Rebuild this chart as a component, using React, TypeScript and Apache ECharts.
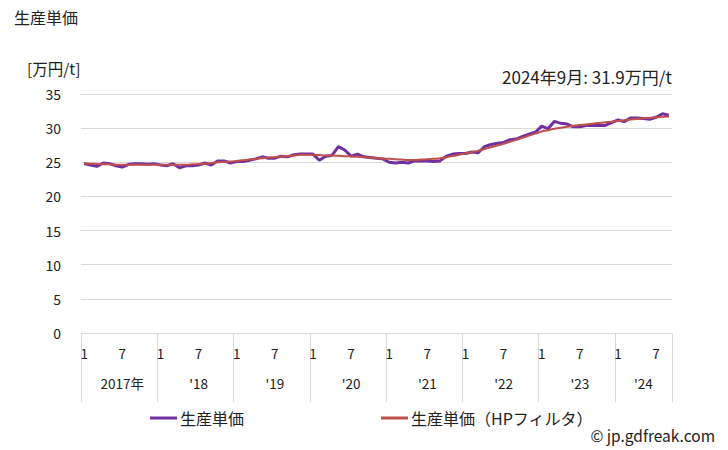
import React, { useEffect, useRef } from "react";
import * as echarts from "echarts";

const months: string[] = [];
for (let y = 2017; y <= 2024; y++) {
  for (let m = 1; m <= 12; m++) {
    if (y === 2024 && m > 9) break;
    months.push(`${y}/${m}`);
  }
}

const yearLabels = ["2017年", "'18", "'19", "'20", "'21", "'22", "'23", "'24"];
const yTicks = [0, 5, 10, 15, 20, 25, 30, 35];

const rawPrice = [
  24.8, 24.6, 24.4, 24.9, 24.8, 24.5, 24.3, 24.7, 24.8, 24.8, 24.7, 24.8,
  24.6, 24.5, 24.8, 24.2, 24.5, 24.5, 24.6, 24.9, 24.6, 25.2, 25.2, 24.9,
  25.1, 25.1, 25.3, 25.5, 25.8, 25.6, 25.6, 25.9, 25.8, 26.1, 26.2, 26.2,
  26.2, 25.3, 25.9, 26.0, 27.3, 26.8, 25.9, 26.2, 25.8, 25.7, 25.6, 25.5,
  25.0, 24.9, 25.0, 24.9, 25.2, 25.2, 25.2, 25.1, 25.2, 25.9, 26.2, 26.3,
  26.3, 26.5, 26.4, 27.3, 27.6, 27.8, 27.9, 28.3, 28.4, 28.8, 29.1, 29.4,
  30.3, 29.9, 31.0, 30.7, 30.6, 30.2, 30.2, 30.4, 30.4, 30.4, 30.4, 30.8,
  31.2, 30.95, 31.5, 31.5, 31.4, 31.3, 31.6, 32.1, 31.9,
];

const hpTrend = [
  24.85, 24.8, 24.75, 24.7, 24.7, 24.65, 24.65, 24.65, 24.65, 24.65, 24.65, 24.65,
  24.65, 24.65, 24.65, 24.65, 24.65, 24.7, 24.75, 24.8, 24.9, 25.0, 25.05, 25.1,
  25.2, 25.3, 25.4, 25.5, 25.6, 25.7, 25.75, 25.85, 25.9, 26.0, 26.1, 26.1,
  26.1, 26.05, 26.0, 26.0, 25.95, 25.9, 25.85, 25.8, 25.75, 25.7, 25.6, 25.55,
  25.5, 25.45, 25.4, 25.35, 25.35, 25.4, 25.45, 25.5, 25.6, 25.75, 25.9, 26.1,
  26.3, 26.5, 26.7, 26.95, 27.2, 27.45, 27.7, 28.0, 28.3, 28.6, 28.9, 29.2,
  29.5, 29.7, 29.9, 30.05, 30.2, 30.35, 30.45, 30.55, 30.65, 30.75, 30.85, 30.95,
  31.05, 31.15, 31.25, 31.35, 31.45, 31.5, 31.6, 31.65, 31.7,
];

const FONT = "'Noto Sans CJK JP', 'Noto Sans', sans-serif";
const TEXT = "#222";
const GRID = "#d9d9d9";
const LAST = months.length - 1;

export default function App() {
  const ref = useRef<HTMLDivElement>(null);
  useEffect(() => {
    if (!ref.current) return;
    const chart = echarts.init(ref.current, undefined, { renderer: "svg" });
    const lastYearStart = Math.floor(LAST / 12) * 12;
    const lastYearMid = lastYearStart + Math.round((LAST - lastYearStart) / 2);
    chart.setOption({
      animation: false,
      backgroundColor: "#fff",
      textStyle: { fontFamily: FONT },
      grid: { left: 81, right: 56, top: 94, bottom: 117 },
      xAxis: [
        {
          type: "category",
          data: months,
          boundaryGap: true,
          axisLine: { show: true, lineStyle: { color: GRID, width: 1 } },
          axisTick: {
            show: true,
            interval: (i: number) => i % 12 === 0,
            length: 69,
            lineStyle: { color: GRID, width: 1 },
          },
          axisLabel: {
            interval: 0,
            margin: 13,
            fontSize: 13.5,
            color: TEXT,
            fontFamily: FONT,
            formatter: (_v: string, i: number) =>
              i % 12 === 0 ? "1" : i % 12 === 6 ? "7" : "",
          },
          splitLine: { show: false },
        },
        {
          type: "category",
          data: months,
          boundaryGap: true,
          position: "bottom",
          offset: 30,
          axisLine: { show: false },
          axisTick: { show: false },
          axisLabel: {
            interval: 0,
            margin: 13,
            fontSize: 13.5,
            color: TEXT,
            fontFamily: FONT,
            formatter: (_v: string, i: number) => {
              if (i >= lastYearStart) return i === lastYearMid ? yearLabels[yearLabels.length - 1] : "";
              return i % 12 === 6 ? yearLabels[Math.floor(i / 12)] : "";
            },
          },
          splitLine: { show: false },
        },
      ],
      yAxis: {
        type: "value",
        min: yTicks[0],
        max: yTicks[yTicks.length - 1],
        interval: 5,
        axisLine: { show: false },
        axisTick: { show: false },
        axisLabel: { fontSize: 14, color: TEXT, margin: 20, fontFamily: FONT },
        splitLine: { show: true, lineStyle: { color: GRID, width: 1 } },
      },
      legend: {
        left: 145,
        top: 405,
        itemWidth: 27,
        itemHeight: 3,
        itemGap: 137,
        icon: "rect",
        textStyle: { fontSize: 16, color: TEXT, fontFamily: FONT, padding: [0, 0, 0, -2] },
        data: ["生産単価", "生産単価（HPフィルタ）"],
      },
      series: [
        {
          name: "生産単価",
          type: "line",
          data: rawPrice,
          symbol: "none",
          lineStyle: { color: "#7030A0", width: 3 },
          itemStyle: { color: "#7030A0" },
        },
        {
          name: "生産単価（HPフィルタ）",
          type: "line",
          data: hpTrend,
          symbol: "none",
          smooth: 0.3,
          lineStyle: { color: "#C0504D", width: 2 },
          itemStyle: { color: "#C0504D" },
        },
      ],
      graphic: [
        {
          type: "text",
          left: 14,
          top: 9,
          style: { text: "生産単価", fontSize: 16, fill: TEXT, fontFamily: FONT },
        },
        {
          type: "text",
          left: 27,
          top: 60,
          style: { text: "[万円/t]", fontSize: 15.5, fill: TEXT, fontFamily: FONT },
        },
        {
          type: "text",
          right: 56,
          top: 68,
          style: { text: "2024年9月: 31.9万円/t", fontSize: 17, fill: TEXT, fontFamily: FONT },
        },
        {
          type: "text",
          right: 13,
          top: 427,
          style: { text: "© jp.gdfreak.com", fontSize: 15.5, fill: TEXT, fontFamily: FONT },
        },
      ],
    });
    return () => chart.dispose();
  }, []);
  return (
    <div
      ref={ref}
      style={{ position: "fixed", left: 0, top: 0, width: 728, height: 450 }}
    />
  );
}
